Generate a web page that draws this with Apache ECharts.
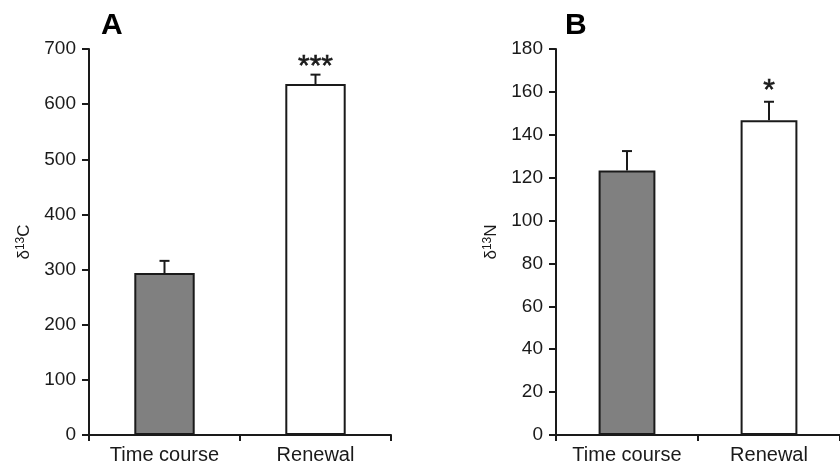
<!DOCTYPE html>
<html>
<head>
<meta charset="utf-8">
<script src="https://cdn.jsdelivr.net/npm/echarts@6/dist/echarts.min.js"></script>
<style>
html,body{margin:0;padding:0;background:#fff;}
#chart{width:840px;height:468px;}
</style>
</head>
<body>
<div id="chart"></div>
<script>
// ---- data ----
const categories = ['Time course', 'Renewal'];
const panelLetters = ['A', 'B'];
const valuesC = [293.8, 636.5];
const errorsC = [22, 17];
const sigC = ['', '***'];
const valuesN = [123.4, 146.8];
const errorsN = [9, 8.6];
const sigN = ['', '*'];
const yTicksC = { min: 0, max: 700, interval: 100 };
const yTicksN = { min: 0, max: 180, interval: 20 };
const barColors = ['#808080', '#ffffff'];

const FONT = '"Liberation Sans", Arial, sans-serif';
const INK = '#1a1a1a';

function xAxis(gi) {
  return {
    type: 'category', gridIndex: gi, data: categories,
    axisLine: { lineStyle: { color: INK, width: 2 } },
    axisTick: { show: true, length: 6, lineStyle: { color: INK, width: 2 } },
    axisLabel: { color: INK, fontSize: 20, fontFamily: FONT, margin: 10, interval: 0, hideOverlap: false }
  };
}
function yAxis(gi, t, el) {
  return {
    type: 'value', gridIndex: gi, min: t.min, max: t.max, interval: t.interval,
    splitLine: { show: false },
    axisLine: { show: true, lineStyle: { color: INK, width: 2 } },
    axisTick: { show: true, length: 7, lineStyle: { color: INK, width: 2 } },
    axisLabel: { color: INK, fontSize: 19, fontFamily: FONT, margin: 13 },
    name: '{d|δ}{s|13}{d|' + el + '}',
    nameLocation: 'middle', nameRotate: 90, nameGap: 55,
    nameTextStyle: {
      color: INK, fontFamily: FONT,
      rich: {
        d: { fontSize: 17, fontFamily: FONT, color: INK },
        s: { fontSize: 12, fontFamily: FONT, color: INK, verticalAlign: 'top', padding: [0, 0, 7, 0] }
      }
    }
  };
}
function bars(gi, vals) {
  return {
    type: 'bar', xAxisIndex: gi, yAxisIndex: gi, barWidth: '40%',
    data: vals.map((v, i) => ({ value: v, itemStyle: { color: barColors[i] } })),
    itemStyle: { borderColor: INK, borderWidth: 2 },
    silent: true, z: 2
  };
}
function errs(gi, vals, errors, sig, labelGap) {
  return {
    type: 'custom', xAxisIndex: gi, yAxisIndex: gi, z: 3, silent: true,
    data: vals.map((v, i) => [i, v, v + errors[i], sig[i]]),
    renderItem: function (params, api) {
      const base = api.coord([api.value(0), api.value(1)]);
      const top = api.coord([api.value(0), api.value(2)]);
      const x = base[0];
      const cap = 5;
      const s = sig[params.dataIndex];
      const children = [
        { type: 'line', shape: { x1: x, y1: base[1], x2: x, y2: top[1] }, style: { stroke: INK, lineWidth: 2 } },
        { type: 'line', shape: { x1: x - cap, y1: top[1], x2: x + cap, y2: top[1] }, style: { stroke: INK, lineWidth: 2 } }
      ];
      if (s) {
        children.push({
          type: 'text',
          style: { text: s, x: x, y: top[1] - labelGap, align: 'center', verticalAlign: 'middle',
                   fontSize: 30, fontFamily: FONT, fill: INK, stroke: INK, lineWidth: 0.6 }
        });
      }
      return { type: 'group', children: children };
    }
  };
}

const chart = echarts.init(document.getElementById('chart'), null, { renderer: 'canvas' });
chart.setOption({
  backgroundColor: '#fff',
  animation: false,
  grid: [
    { left: 89, top: 49, width: 302, height: 386 },
    { left: 556, top: 49, width: 287, height: 386 }
  ],
  title: [
    { text: panelLetters[0], left: 96, top: 6, textStyle: { fontSize: 30, fontWeight: 'bold', fontFamily: FONT, color: '#000' } },
    { text: panelLetters[1], left: 560, top: 6, textStyle: { fontSize: 30, fontWeight: 'bold', fontFamily: FONT, color: '#000' } }
  ],
  xAxis: [xAxis(0), xAxis(1)],
  yAxis: [yAxis(0, yTicksC, 'C'), yAxis(1, yTicksN, 'N')],
  series: [
    bars(0, valuesC), errs(0, valuesC, errorsC, sigC, 8),
    bars(1, valuesN), errs(1, valuesN, errorsN, sigN, 11)
  ]
});
</script>
</body>
</html>
